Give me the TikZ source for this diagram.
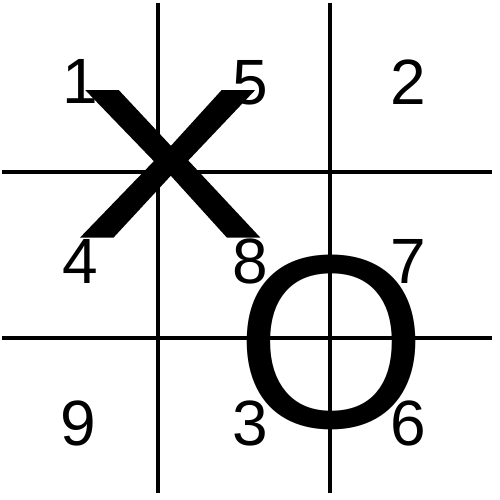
\documentclass[tikz,border=0pt]{standalone}
\usepackage{fontspec}
\setmainfont{Liberation Sans}
\usetikzlibrary{positioning}
% heavier glyph: fill and stroke the outline
\newcommand{\heavytext}[2]{\special{pdf:literal q 2 Tr #1 w}#2\special{pdf:literal Q}}
\begin{document}
\begin{tikzpicture}[x=1pt,y=-1pt,
  grid line/.style={line width=4pt},
  cell num/.style={inner sep=0pt,anchor=base,font=\fontsize{64}{64}\selectfont},
  mark x/.style={inner sep=0pt,font=\fontsize{210}{210}\selectfont},
  mark o/.style={inner sep=0pt,anchor=base,font=\fontsize{247}{247}\selectfont},
]
\useasboundingbox (0,0) rectangle (500,500);

% the grid
\foreach \p in {158,330}
  \draw[grid line] (\p,3) -- (\p,493);
\foreach \p in {172,338}
  \draw[grid line] (2,\p) -- (492,\p);

% the cell numbers
\foreach \n/\x/\y in {1/80/104, 5/250/105, 2/408/105, 4/80/283, 8/250/283,
  7/408/283, 9/78/445, 3/250/445, 6/408/445}
  \node[cell num] (c\n) at (\x,\y) {\n};

% the marks
\node[mark x] (mx) at (170,164) {\scalebox{1.32}[1]{\heavytext{3}{X}}};
\node[mark o] (mo) at (332,427) {O};
\end{tikzpicture}
\end{document}
